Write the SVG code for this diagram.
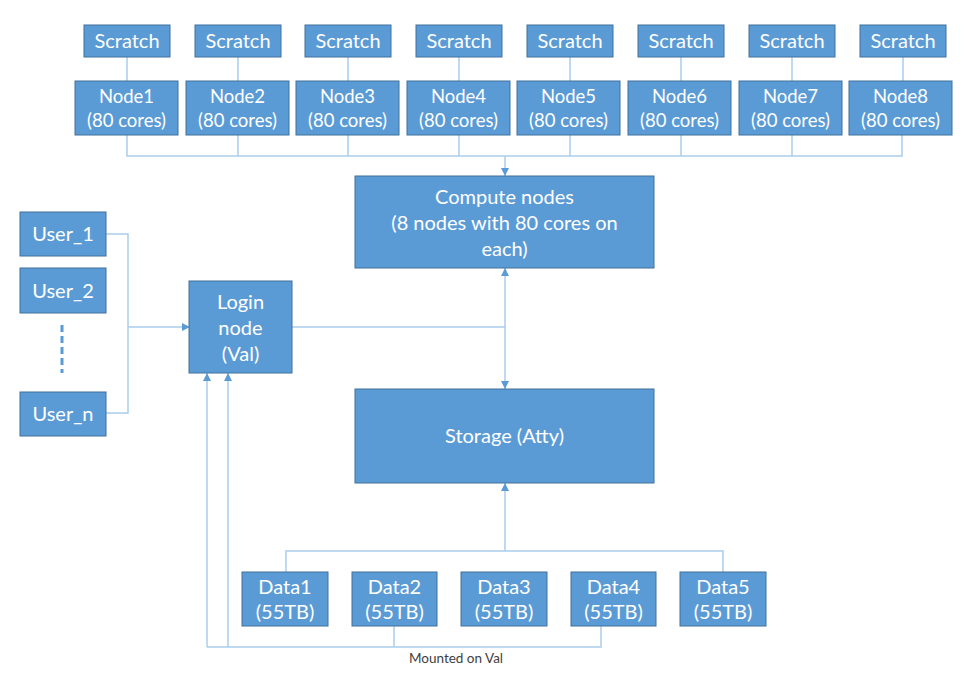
<svg xmlns="http://www.w3.org/2000/svg" width="972" height="692" viewBox="0 0 972 692">
<defs>
<style>
.box{fill:#5B9BD5;stroke:#41719C;stroke-width:1}
.t{font-family:Lato,"Open Sans","Liberation Sans",sans-serif;font-size:20px;fill:#FFFFFF;text-anchor:middle}
.n{font-size:18.5px}
.c{fill:none;stroke:#A9CDEC;stroke-width:1.5}
.lbl{font-family:Lato,"Open Sans","Liberation Sans",sans-serif;font-size:13.5px;fill:#404040;text-anchor:middle}
</style>
<marker id="ah" viewBox="0 0 10 10" refX="10" refY="5" markerWidth="8" markerHeight="8" markerUnits="userSpaceOnUse" orient="auto">
<path d="M0,0 L10,5 L0,10 z" fill="#5B9BD5"/>
</marker>
</defs>
<rect width="972" height="692" fill="#FFFFFF"/>
<g id="connectors">
<path class="c" d="M127,57 V81 M238,57 V81 M348,57 V81 M459,57 V81 M570,57 V81 M681,57 V81 M792,57 V81 M903,57 V81"/>
<path class="c" d="M127,135 V156 H902 V135 M238,135 V156 M348,135 V156 M459,135 V156 M570,135 V156 M681,135 V156 M792,135 V156"/>
<path class="c" d="M505,156 V176" marker-end="url(#ah)"/>
<path class="c" d="M292,327 H505"/>
<path class="c" d="M505,327 V268" marker-end="url(#ah)"/>
<path class="c" d="M505,327 V389" marker-end="url(#ah)"/>
<path class="c" d="M106,234 H128 V413 H106"/>
<path class="c" d="M128,327 H190" marker-end="url(#ah)"/>
<path class="c" d="M286,572 V551 H723 V572"/>
<path class="c" d="M505,551 V483" marker-end="url(#ah)"/>
<path class="c" d="M394,626 V647 M601,626 V647 H207"/>
<path class="c" d="M207,647 V373" marker-end="url(#ah)"/>
<path class="c" d="M228,647 V373" marker-end="url(#ah)"/>
<text class="lbl" x="456" y="663">Mounted on Val</text>
</g>
<g id="scratch1"><rect class="box" x="84" y="25" width="86" height="32"/><text class="t" x="127" y="48">Scratch</text></g>
<g id="scratch2"><rect class="box" x="195" y="25" width="86" height="32"/><text class="t" x="238" y="48">Scratch</text></g>
<g id="scratch3"><rect class="box" x="305" y="25" width="86" height="32"/><text class="t" x="348" y="48">Scratch</text></g>
<g id="scratch4"><rect class="box" x="416" y="25" width="86" height="32"/><text class="t" x="459" y="48">Scratch</text></g>
<g id="scratch5"><rect class="box" x="527" y="25" width="86" height="32"/><text class="t" x="570" y="48">Scratch</text></g>
<g id="scratch6"><rect class="box" x="638" y="25" width="86" height="32"/><text class="t" x="681" y="48">Scratch</text></g>
<g id="scratch7"><rect class="box" x="749" y="25" width="86" height="32"/><text class="t" x="792" y="48">Scratch</text></g>
<g id="scratch8"><rect class="box" x="860" y="25" width="86" height="32"/><text class="t" x="903" y="48">Scratch</text></g>
<g id="node1"><rect class="box" x="75" y="81" width="103" height="54"/><text class="t n" x="126.5" y="103">Node1</text><text class="t n" x="126.5" y="127">(80 cores)</text></g>
<g id="node2"><rect class="box" x="186" y="81" width="103" height="54"/><text class="t n" x="237.5" y="103">Node2</text><text class="t n" x="237.5" y="127">(80 cores)</text></g>
<g id="node3"><rect class="box" x="296" y="81" width="103" height="54"/><text class="t n" x="347.5" y="103">Node3</text><text class="t n" x="347.5" y="127">(80 cores)</text></g>
<g id="node4"><rect class="box" x="407" y="81" width="103" height="54"/><text class="t n" x="458.5" y="103">Node4</text><text class="t n" x="458.5" y="127">(80 cores)</text></g>
<g id="node5"><rect class="box" x="517" y="81" width="103" height="54"/><text class="t n" x="568.5" y="103">Node5</text><text class="t n" x="568.5" y="127">(80 cores)</text></g>
<g id="node6"><rect class="box" x="628" y="81" width="103" height="54"/><text class="t n" x="679.5" y="103">Node6</text><text class="t n" x="679.5" y="127">(80 cores)</text></g>
<g id="node7"><rect class="box" x="739" y="81" width="103" height="54"/><text class="t n" x="790.5" y="103">Node7</text><text class="t n" x="790.5" y="127">(80 cores)</text></g>
<g id="node8"><rect class="box" x="849" y="81" width="103" height="54"/><text class="t n" x="900.5" y="103">Node8</text><text class="t n" x="900.5" y="127">(80 cores)</text></g>
<g id="compute"><rect class="box" x="355" y="176" width="299" height="92"/><text class="t" x="504.5" y="204">Compute nodes</text><text class="t" x="504.5" y="230">(8 nodes with 80 cores on</text><text class="t" x="504.5" y="256">each)</text></g>
<g id="storage"><rect class="box" x="355" y="389" width="299" height="94"/><text class="t" x="504.5" y="443">Storage (Atty)</text></g>
<g id="login"><rect class="box" x="189" y="281" width="103" height="92"/><text class="t" x="240.5" y="309">Login</text><text class="t" x="240.5" y="335">node</text><text class="t" x="240.5" y="361">(Val)</text></g>
<g id="user1"><rect class="box" x="20" y="212" width="86" height="44"/><text class="t" x="63" y="241">User_1</text></g>
<g id="user2"><rect class="box" x="20" y="268" width="86" height="45"/><text class="t" x="63" y="298">User_2</text></g>
<g id="ellipsis"><line x1="62" y1="325" x2="62" y2="373" stroke="#5B9BD5" stroke-width="3" stroke-dasharray="7,4"/></g>
<g id="usern"><rect class="box" x="20" y="392" width="86" height="44"/><text class="t" x="63" y="421">User_n</text></g>
<g id="data1"><rect class="box" x="242" y="572" width="86" height="54"/><text class="t" x="285" y="594">Data1</text><text class="t" x="285" y="619">(55TB)</text></g>
<g id="data2"><rect class="box" x="352" y="572" width="85" height="54"/><text class="t" x="394.5" y="594">Data2</text><text class="t" x="394.5" y="619">(55TB)</text></g>
<g id="data3"><rect class="box" x="461" y="572" width="86" height="54"/><text class="t" x="504" y="594">Data3</text><text class="t" x="504" y="619">(55TB)</text></g>
<g id="data4"><rect class="box" x="571" y="572" width="85" height="54"/><text class="t" x="613.5" y="594">Data4</text><text class="t" x="613.5" y="619">(55TB)</text></g>
<g id="data5"><rect class="box" x="680" y="572" width="86" height="54"/><text class="t" x="723" y="594">Data5</text><text class="t" x="723" y="619">(55TB)</text></g>
</svg>
